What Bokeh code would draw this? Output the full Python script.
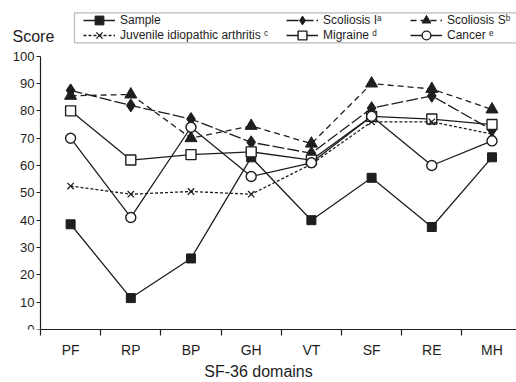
from bokeh.plotting import figure
from bokeh.models import (Range1d, FixedTicker, Legend, LegendItem, Label,
                          BoxAnnotation, LinearAxis)
from bokeh.embed import file_html
from bokeh.resources import INLINE

# ---------------- data ----------------
domains = ["PF", "RP", "BP", "GH", "VT", "SF", "RE", "MH"]
sample = [38.5, 11.5, 26, 63, 40, 55.5, 37.5, 63]
scoliosis_i = [87.5, 82, 77, 68.5, 64.5, 81, 85.5, 73]
scoliosis_s = [85.5, 86, 70, 74.5, 68, 90, 88, 80.5]
jia = [52.5, 49.5, 50.5, 49.5, 60.5, 76, 76, 71.5]
migraine = [80, 62, 64, 65, 62, 78, 77, 75]
cancer = [70, 41, 74, 56, 61, 78, 60, 69]
y_ticks = [0, 10, 20, 30, 40, 50, 60, 70, 80, 90, 100]

FONT = "Liberation Sans"
INK = "#1e1e1e"

# geometry helpers (pixel -> data) for annotations
AX, FB = 40, 329          # y-axis x position / frame bottom in canvas px
PXX, PXY = 60.2, 2.733    # px per category, px per score unit
def xv(px):
    return -0.5 + (px - AX) / PXX
def yv(py):
    return (FB - py) / PXY

xs = list(range(len(domains)))

p = figure(width=516, height=382,
           x_range=Range1d(xv(0), xv(516)), y_range=Range1d(0, yv(0)),
           y_axis_location=None,
           min_border_left=0, min_border_right=0, min_border_top=0,
           min_border_bottom=382 - FB,
           output_backend="svg", toolbar_location=None)
p.outline_line_color = None
p.xgrid.visible = False
p.ygrid.visible = False
p.background_fill_color = "white"
p.border_fill_color = "white"

# x axis: labels at category centres, tick marks at boundaries
xa = p.xaxis[0]
xa.ticker = FixedTicker(ticks=xs, minor_ticks=[i - 0.5 for i in range(len(domains) + 1)])
xa.bounds = (-0.5, xv(530))
xa.major_label_overrides = {i: d for i, d in enumerate(domains)}
xa.major_tick_line_color = None
xa.major_tick_out = 6
xa.major_tick_in = 0
xa.minor_tick_line_color = INK
xa.minor_tick_out = 6
xa.minor_tick_in = 0
xa.minor_tick_line_width = 1.2
xa.axis_line_color = INK
xa.axis_line_width = 1.2
xa.major_label_standoff = 6
xa.major_label_text_font = FONT
xa.major_label_text_font_size = "14px"
xa.major_label_text_color = INK
xa.axis_label = "SF-36 domains"
xa.axis_label_text_font = FONT
xa.axis_label_text_font_size = "16px"
xa.axis_label_text_font_style = "normal"
xa.axis_label_text_color = INK
xa.axis_label_standoff = 2

ya = LinearAxis(fixed_location=-0.5)
ya.ticker = FixedTicker(ticks=y_ticks, minor_ticks=[])
ya.bounds = (0, 100)
ya.major_tick_out = 4
ya.major_tick_in = 0
ya.major_tick_line_color = INK
ya.major_tick_line_width = 1.2
ya.minor_tick_line_color = None
ya.axis_line_color = INK
ya.axis_line_width = 1.2
ya.major_label_standoff = 2
ya.major_label_text_font = FONT
ya.major_label_text_font_size = "13px"
ya.major_label_text_color = INK
p.add_layout(ya, "left")

LW = 1.3
# Sample
r_s_l = p.line(xs, sample, line_color=INK, line_width=LW)
r_s_m = p.scatter(xs, sample, marker="square", size=9, fill_color=INK, line_color=INK)
# Scoliosis S
r_ss_l = p.line(xs, scoliosis_s, line_color=INK, line_width=LW, line_dash="6 4")
r_ss_m = p.scatter(xs, scoliosis_s, marker="triangle", size=12, fill_color=INK, line_color=INK)
# Scoliosis I
r_si_l = p.line(xs, scoliosis_i, line_color=INK, line_width=LW, line_dash="12 3")
r_si_m = p.scatter(xs, scoliosis_i, marker="diamond", size=13, fill_color=INK, line_color=INK)
# Migraine
r_mi_l = p.line(xs, migraine, line_color=INK, line_width=LW)
r_mi_m = p.scatter(xs, migraine, marker="square", size=10, fill_color="white",
                   line_color=INK, line_width=1.4)
# JIA
r_j_l = p.line(xs, jia, line_color=INK, line_width=LW, line_dash="3 2")
r_j_m = p.scatter(xs, jia, marker="x", size=9, line_color=INK, line_width=1.3)
# Cancer
r_c_l = p.line(xs, cancer, line_color=INK, line_width=LW)
r_c_m = p.scatter(xs, cancer, marker="circle", size=10, fill_color="white",
                  line_color=INK, line_width=1.4)

# legend box
p.add_layout(BoxAnnotation(left=xv(74), right=xv(560), bottom=yv(42.3), top=yv(12.3),
                           fill_color=None, line_color=INK, line_width=1.2))

GH = 22  # legend glyph box height (sets legend marker size)
def add_item(label, renderers, left_px, row_center_px):
    lg = Legend(items=[LegendItem(label=label, renderers=renderers)],
                location=(left_px, FB - (row_center_px + GH / 2)),
                orientation="vertical", padding=0, margin=0, spacing=0,
                glyph_width=32, glyph_height=GH, label_height=GH,
                label_standoff=5, border_line_color=None,
                background_fill_alpha=0,
                label_text_font=FONT, label_text_font_size="12px",
                label_text_color=INK)
    p.add_layout(lg, "center")

R1, R2 = 20.3, 34.5
add_item("Sample", [r_s_l, r_s_m], 83, R1)
add_item("Juvenile idiopathic arthritis \u1d9c", [r_j_l, r_j_m], 83, R2)
add_item("Scoliosis I\u1d43", [r_si_l, r_si_m], 286, R1)
add_item("Migraine \u1d48", [r_mi_l, r_mi_m], 286, R2)
add_item("Scoliosis S\u1d47", [r_ss_l, r_ss_m], 410, R1)
add_item("Cancer \u1d49", [r_c_l, r_c_m], 410, R2)

p.add_layout(Label(x=xv(12), y=yv(36), text="Score", text_font=FONT,
                   text_font_size="16px", text_color=INK, text_baseline="alphabetic"))

open("out.html", "w").write(file_html(p, INLINE))
